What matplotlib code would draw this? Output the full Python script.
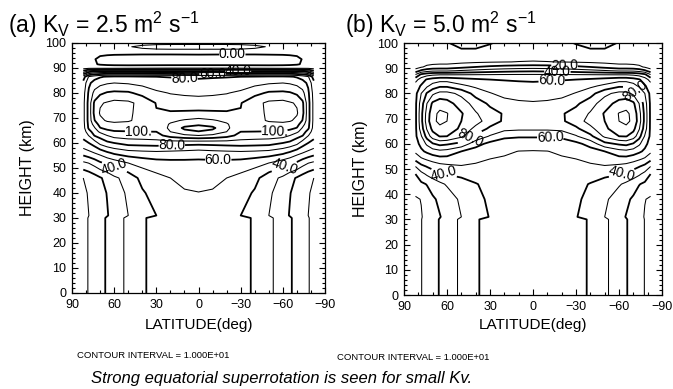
import numpy as np
import matplotlib.pyplot as plt
from matplotlib.ticker import MultipleLocator

plt.rcParams['font.family'] = ['Liberation Sans', 'DejaVu Sans']
plt.rcParams['mathtext.fontset'] = 'custom'
plt.rcParams['mathtext.rm'] = 'Liberation Sans'
plt.rcParams['mathtext.it'] = 'Liberation Sans:italic'

# model latitudes of the northern half (deg); the southern half is the mirror image
lat_half = [82, 78, 74, 70, 65, 60, 50, 40, 30, 20, 10, 0]

# (a) Kv = 2.5 : zonal wind (m/s), one row per height
height_a = [0, 30, 31, 40, 46, 52, 56, 60, 63, 64.5, 66, 67.5, 69, 72, 76, 80,
            84, 86.5, 88.5, 90, 91.5, 93.5, 95.5, 97, 98.5, 100]
wind_a = [
    [7.3, 10.6, 14, 17.3, 21, 25, 32.3, 38.6, 43.5, 47, 49, 49.6],
    [7.3, 10.6, 14, 17.3, 21, 25, 32.3, 38.6, 43.5, 47, 49, 49.6],
    [7, 10, 13.3, 16.5, 19.5, 22.8, 30, 35.5, 40, 44, 46.3, 47],
    [8.2, 10.8, 14, 17.5, 20.3, 24.5, 31.8, 38.8, 44, 47.5, 49.3, 49.8],
    [10, 12.5, 15.5, 19, 23, 28, 34, 43, 47, 50, 52, 52.8],
    [28, 30.3, 34, 38.5, 41.5, 44.5, 50, 53.5, 56, 57, 57.3, 57.5],
    [44, 47, 50, 53, 58, 61.7, 65.3, 66.6, 67.3, 66.7, 65.9, 64.6],
    [57, 60, 65, 73, 77.5, 80, 84, 84.5, 85, 84.4, 83.7, 83.3],
    [63, 70.5, 80.5, 84, 90, 94, 95, 95.6, 96.7, 104, 108, 110],
    [64.5, 76, 85, 92, 96.5, 99, 99.5, 99.8, 100, 110, 117, 119.5],
    [66, 82, 89, 99.5, 103, 104, 104, 104, 103, 112, 122, 124],
    [66.5, 83, 94, 104, 107, 108, 107.5, 105.5, 103.5, 111, 116, 118.5],
    [67, 84, 99.5, 108, 111, 112, 111, 107, 103, 108, 111, 113],
    [67, 84, 103, 111, 113, 114, 112, 106, 100.5, 101, 101.5, 102],
    [67, 84, 102, 109, 111, 113, 112, 107, 99.5, 95.5, 94.5, 94],
    [66, 82, 93, 98, 101, 102, 101.5, 97, 92, 89.5, 88.5, 88],
    [63, 78, 84, 87, 89, 90, 89, 87, 84, 83, 82.5, 82],
    [55, 71, 76, 79, 81, 82, 82, 81, 80, 79.6, 79.3, 79],
    [25, 38, 42, 44, 45, 45, 45, 45, 45, 44.5, 44, 44],
    [6, 7, 7, 7, 7, 7, 7.5, 8, 8.5, 9, 9, 9],
    [4, 3, 1, -1, -2, -2.5, -3, -3, -3, -3, -3, -3],
    [3, 2, 0.5, -2.5, -4, -5, -5.5, -6, -6, -6, -6, -6],
    [3, 3, 2.5, 1.5, 1, 0.7, 0.5, 0.3, 0.3, 0.3, 0.4, 0.5],
    [3, 3, 3, 3.5, 4, 5, 6.5, 8, 8.5, 8.5, 8.5, 8.5],
    [3, 3, 3, 3.5, 4.5, 6, 9.5, 11.5, 12.5, 13, 13, 13],
    [2, 2, 2, 2.5, 3, 4, 6, 7.5, 8, 8, 8, 8],
]

# (b) Kv = 5.0
height_b = [0, 30, 31, 38, 44, 48, 51, 54, 57, 60, 63, 66, 69, 72, 76, 80, 83,
            85.5, 87.5, 89, 90.5, 92.5, 95, 97.5, 100]
wind_b = [
    [6.5, 9.7, 13.3, 17.2, 20.5, 24.5, 32, 38.8, 43.5, 47, 49, 49.6],
    [6.5, 9.7, 13.3, 17.2, 20.5, 24.5, 32, 38.8, 43.5, 47, 49, 49.6],
    [6.3, 9.4, 12.8, 16.3, 19.6, 22.8, 30, 35.5, 40.5, 44, 46.3, 47],
    [8.8, 10.3, 14.5, 18.6, 21.8, 25, 31.8, 37.5, 41.5, 45, 47.5, 48.5],
    [15, 18, 20.5, 24, 28, 31, 34.5, 39.3, 43.5, 46, 47.8, 48.5],
    [20, 27, 31.5, 35, 38, 40.5, 43, 45.5, 47, 48, 48.5, 48.8],
    [30, 37, 40.5, 43.5, 46, 47.5, 49.3, 48.5, 48, 48, 48.2, 48.3],
    [43, 48.5, 51.5, 54, 56.5, 56.5, 54.5, 52, 50, 49, 48.8, 48.8],
    [52, 58, 62, 65.5, 67.5, 66.5, 60, 55.5, 53, 51.5, 49.8, 49.5],
    [56, 63, 72, 79, 83, 81.5, 77, 64, 57, 55, 54.5, 54.5],
    [58, 69, 84, 95, 100.5, 100, 92, 77.5, 69, 62, 61, 61],
    [58, 75, 91, 103, 108, 106, 98, 87, 78, 73, 72, 72],
    [58, 77, 95, 108, 112, 110, 100, 94, 85, 78.5, 75.5, 75],
    [58, 77, 94, 107, 112, 110.5, 101, 91, 84, 79, 75, 74.5],
    [58, 75, 90, 102, 106, 104, 95, 86, 78, 73, 71.5, 71],
    [57, 70, 81, 88, 93, 93, 87.5, 76, 70.5, 67.5, 66.5, 66],
    [55, 61, 68, 74, 78, 78, 72, 68, 66, 64.5, 64, 63.5],
    [46, 55, 61, 64, 66, 66, 63.5, 61.5, 60, 59.3, 58.5, 58],
    [30, 42, 46, 48, 49, 49, 49.3, 49.6, 49.8, 50, 50.2, 50.3],
    [14, 22, 26, 28, 28.5, 28.5, 31, 33, 35, 36.5, 37.5, 38],
    [6, 9, 12, 13.5, 14, 14, 17, 20, 22, 23.5, 24.5, 25],
    [4, 5, 6, 6.5, 7, 7, 7.8, 8.6, 9.3, 9.8, 10.2, 10.4],
    [4, 4.5, 5, 5, 5, 4.5, 3.5, 3.5, 4.5, 6, 7, 7.5],
    [5, 5, 5, 4.5, 3.5, 2, 0.3, 0.3, 2, 4, 5, 5.5],
    [6, 6, 5.5, 4, 2.5, 0.5, -2.5, -2.5, -0.5, 2, 3.5, 4],
]

levels = list(range(0, 130, 10))

# where the contour labels sit (lat, height)
labels_a = {0: [(-24, 95.2)], 40: [(60, 50), (-61, 50.5), (-28, 88.7)],
            60: [(-14, 54.5), (-10, 87.7)], 80: [(19, 59.5), (10, 85.8)],
            100: [(43, 65), (-54, 65)]}
labels_b = {20: [(-22, 91.2)], 40: [(62, 48.5), (-62, 48), (-17, 88.8)],
            60: [(-12, 62.3), (-13, 85.3)], 80: [(44, 62.5), (-69, 78.5)]}


def mirror(rows):
    arr = np.array(rows, dtype=float)
    return np.hstack([arr, arr[:, -2::-1]])


lat_full = np.array(lat_half + [-v for v in lat_half[-2::-1]], dtype=float)


def fmt(v):
    if abs(v) < 10:
        return '%.2f' % v
    if abs(v) < 100:
        return '%.1f' % v
    return '%d.' % v


def width(lv):
    return 1.3 if lv % 20 == 0 else 0.75


def panel(ax, heights, rows, labels):
    field = mirror(rows)
    plain = [lv for lv in levels if lv not in labels]
    ax.contour(lat_full, heights, field, levels=plain, colors='k',
               linewidths=[width(lv) for lv in plain])
    for lv, pos in labels.items():
        cs = ax.contour(lat_full, heights, field, levels=[lv], colors='k',
                        linewidths=width(lv))
        cs.clabel(manual=pos, fmt=fmt, fontsize=10, inline=True,
                  inline_spacing=1)
    ax.set_xlim(90, -90)
    ax.set_ylim(0, 100)
    ax.set_xticks([90, 60, 30, 0, -30, -60, -90])
    ax.xaxis.set_minor_locator(MultipleLocator(10))
    ax.yaxis.set_major_locator(MultipleLocator(10))
    ax.yaxis.set_minor_locator(MultipleLocator(2))
    ax.tick_params(which='both', direction='in', top=True, right=True,
                   width=0.8, labelsize=9)
    ax.tick_params(which='major', length=4.5)
    ax.tick_params(axis='x', which='major', pad=4.5)
    ax.tick_params(axis='y', which='major', pad=4)
    ax.tick_params(which='minor', length=2.5)
    for s in ax.spines.values():
        s.set_linewidth(0.9)
    ax.set_xlabel('LATITUDE(deg)', fontsize=11)
    ax.set_ylabel('HEIGHT (km)', fontsize=11.5)


fig = plt.figure(figsize=(6.73, 3.89), dpi=100)
ax1 = fig.add_axes([0.107, 0.2468, 0.376, 0.6427])
ax2 = fig.add_axes([0.6003, 0.2416, 0.3834, 0.6478])

panel(ax1, height_a, wind_a, labels_a)
panel(ax2, height_b, wind_b, labels_b)
ax1.yaxis.set_label_coords(-0.146, 0.5)
ax2.yaxis.set_label_coords(-0.14, 0.5)
ax1.xaxis.set_label_coords(0.5, -0.1)
ax2.xaxis.set_label_coords(0.5, -0.092)

fig.text(0.012, 0.916, r'(a) K$_\mathrm{V}$ = 2.5 m$^2$ s$^{-1}$', fontsize=16.5,
         va='baseline')
fig.text(0.5126, 0.916, r'(b) K$_\mathrm{V}$ = 5.0 m$^2$ s$^{-1}$', fontsize=16.5,
         va='baseline')

fig.text(153 / 673, 1 - 358.5 / 389, 'CONTOUR INTERVAL = 1.000E+01',
         fontsize=6.8, ha='center', va='baseline')
fig.text(413 / 673, 1 - 360.5 / 389, 'CONTOUR INTERVAL = 1.000E+01',
         fontsize=6.8, ha='center', va='baseline')
fig.text(282 / 673, 1 - 383 / 389,
         'Strong equatorial superrotation is seen for small Kv.',
         fontsize=12, style='italic', ha='center', va='baseline')

fig.savefig('out.png', dpi=100)
